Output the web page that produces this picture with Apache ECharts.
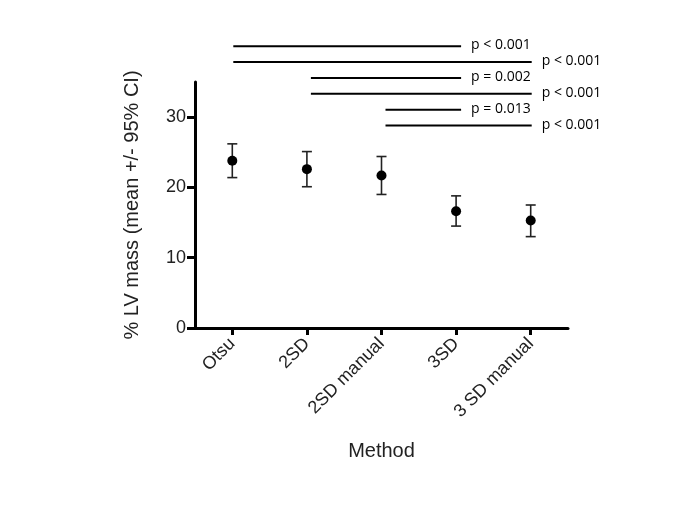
<!DOCTYPE html>
<html>
<head>
<meta charset="utf-8">
<script src="https://cdn.jsdelivr.net/npm/echarts@6/dist/echarts.min.js"></script>
<style>html,body{margin:0;padding:0;background:#fff}#c{width:685px;height:510px}</style>
</head>
<body>
<div id="c"></div>
<script>
var categories = ['Otsu', '2SD', '2SD manual', '3SD', '3 SD manual'];
var means = [23.8, 22.6, 21.7, 16.6, 15.3];
var lower = [21.4, 20.1, 19.0, 14.5, 13.0];
var upper = [26.2, 25.1, 24.4, 18.8, 17.5];
var yTicks = [0, 10, 20, 30];
// comparisons: [from index, to index, label]
var compFrom = [0, 0, 1, 1, 2, 2];
var compTo = [3, 4, 3, 4, 3, 4];
var compLabels = ['p < 0.001', 'p < 0.001', 'p = 0.002', 'p < 0.001', 'p = 0.013', 'p < 0.001'];

var chart = echarts.init(document.getElementById('c'));
var FONT = 'Liberation Sans, Arial, sans-serif';

var errData = categories.map(function (c, i) { return [i, lower[i], upper[i]]; });
var pointData = categories.map(function (c, i) { return [i, means[i]]; });
var compData = compFrom.map(function (f, i) { return [f, compTo[i], i]; });

chart.setOption({
  animation: false,
  grid: { left: 195, top: 82, width: 373, height: 246, containLabel: false },
  xAxis: {
    type: 'value', min: -0.5, max: 4.5, interval: 1,
    name: 'Method', nameLocation: 'middle', nameGap: 113,
    nameTextStyle: { fontFamily: FONT, fontSize: 20, color: '#222' },
    axisLine: { onZero: false, lineStyle: { color: '#000', width: 3 } },
    axisTick: { show: true, length: 7, lineStyle: { color: '#000', width: 3 },
      customValues: [0, 1, 2, 3, 4] },
    axisLabel: { rotate: 45, fontFamily: FONT, fontSize: 18, color: '#222', margin: 13,
      customValues: [0, 1, 2, 3, 4],
      formatter: function (v) { return categories[Math.round(v)] || ''; } },
    splitLine: { show: false }
  },
  yAxis: {
    type: 'value', min: 0, max: 35, interval: 10,
    name: '% LV mass (mean +/- 95% CI)', nameLocation: 'middle', nameGap: 53,
    nameTextStyle: { fontFamily: FONT, fontSize: 20, color: '#222' },
    axisLine: { show: true, onZero: false, lineStyle: { color: '#000', width: 3 } },
    axisTick: { show: true, length: 8, lineStyle: { color: '#000', width: 3 }, customValues: yTicks },
    axisLabel: { fontFamily: FONT, fontSize: 18, color: '#222', margin: 9, customValues: yTicks },
    splitLine: { show: false }
  },
  series: [
    {
      type: 'custom', clip: false, z: 2,
      data: errData,
      renderItem: function (params, api) {
        var lo = api.coord([api.value(0), api.value(1)]);
        var hi = api.coord([api.value(0), api.value(2)]);
        var st = { stroke: '#222', lineWidth: 1.6 };
        return { type: 'group', children: [
          { type: 'line', shape: { x1: lo[0], y1: lo[1], x2: hi[0], y2: hi[1] }, style: st },
          { type: 'line', shape: { x1: lo[0] - 5, y1: lo[1], x2: lo[0] + 5, y2: lo[1] }, style: st },
          { type: 'line', shape: { x1: hi[0] - 5, y1: hi[1], x2: hi[0] + 5, y2: hi[1] }, style: st }
        ] };
      }
    },
    {
      type: 'scatter', z: 3, symbol: 'circle', symbolSize: 10,
      itemStyle: { color: '#000', opacity: 1 },
      data: pointData
    },
    {
      type: 'custom', clip: false, z: 2,
      data: compData,
      renderItem: function (params, api) {
        var k = api.value(2);
        var yv = 40.1 - k * 2.26;
        var a = api.coord([api.value(0), yv]);
        var b = api.coord([api.value(1), yv]);
        var x1 = a[0] + (api.value(0) === 0 ? 1 : 4);
        var x2 = b[0] + (api.value(1) === 3 ? 5 : 1);
        return { type: 'group', children: [
          { type: 'line', shape: { x1: x1, y1: a[1], x2: x2, y2: a[1] }, style: { stroke: '#000', lineWidth: 2 } },
          { type: 'text', x: x2 + 10, y: a[1] - 1, style: { text: compLabels[k], fill: '#000',
            font: '14px "Open Sans", sans-serif', textVerticalAlign: 'middle', verticalAlign: 'middle' } }
        ] };
      }
    }
  ]
});
</script>
</body>
</html>
